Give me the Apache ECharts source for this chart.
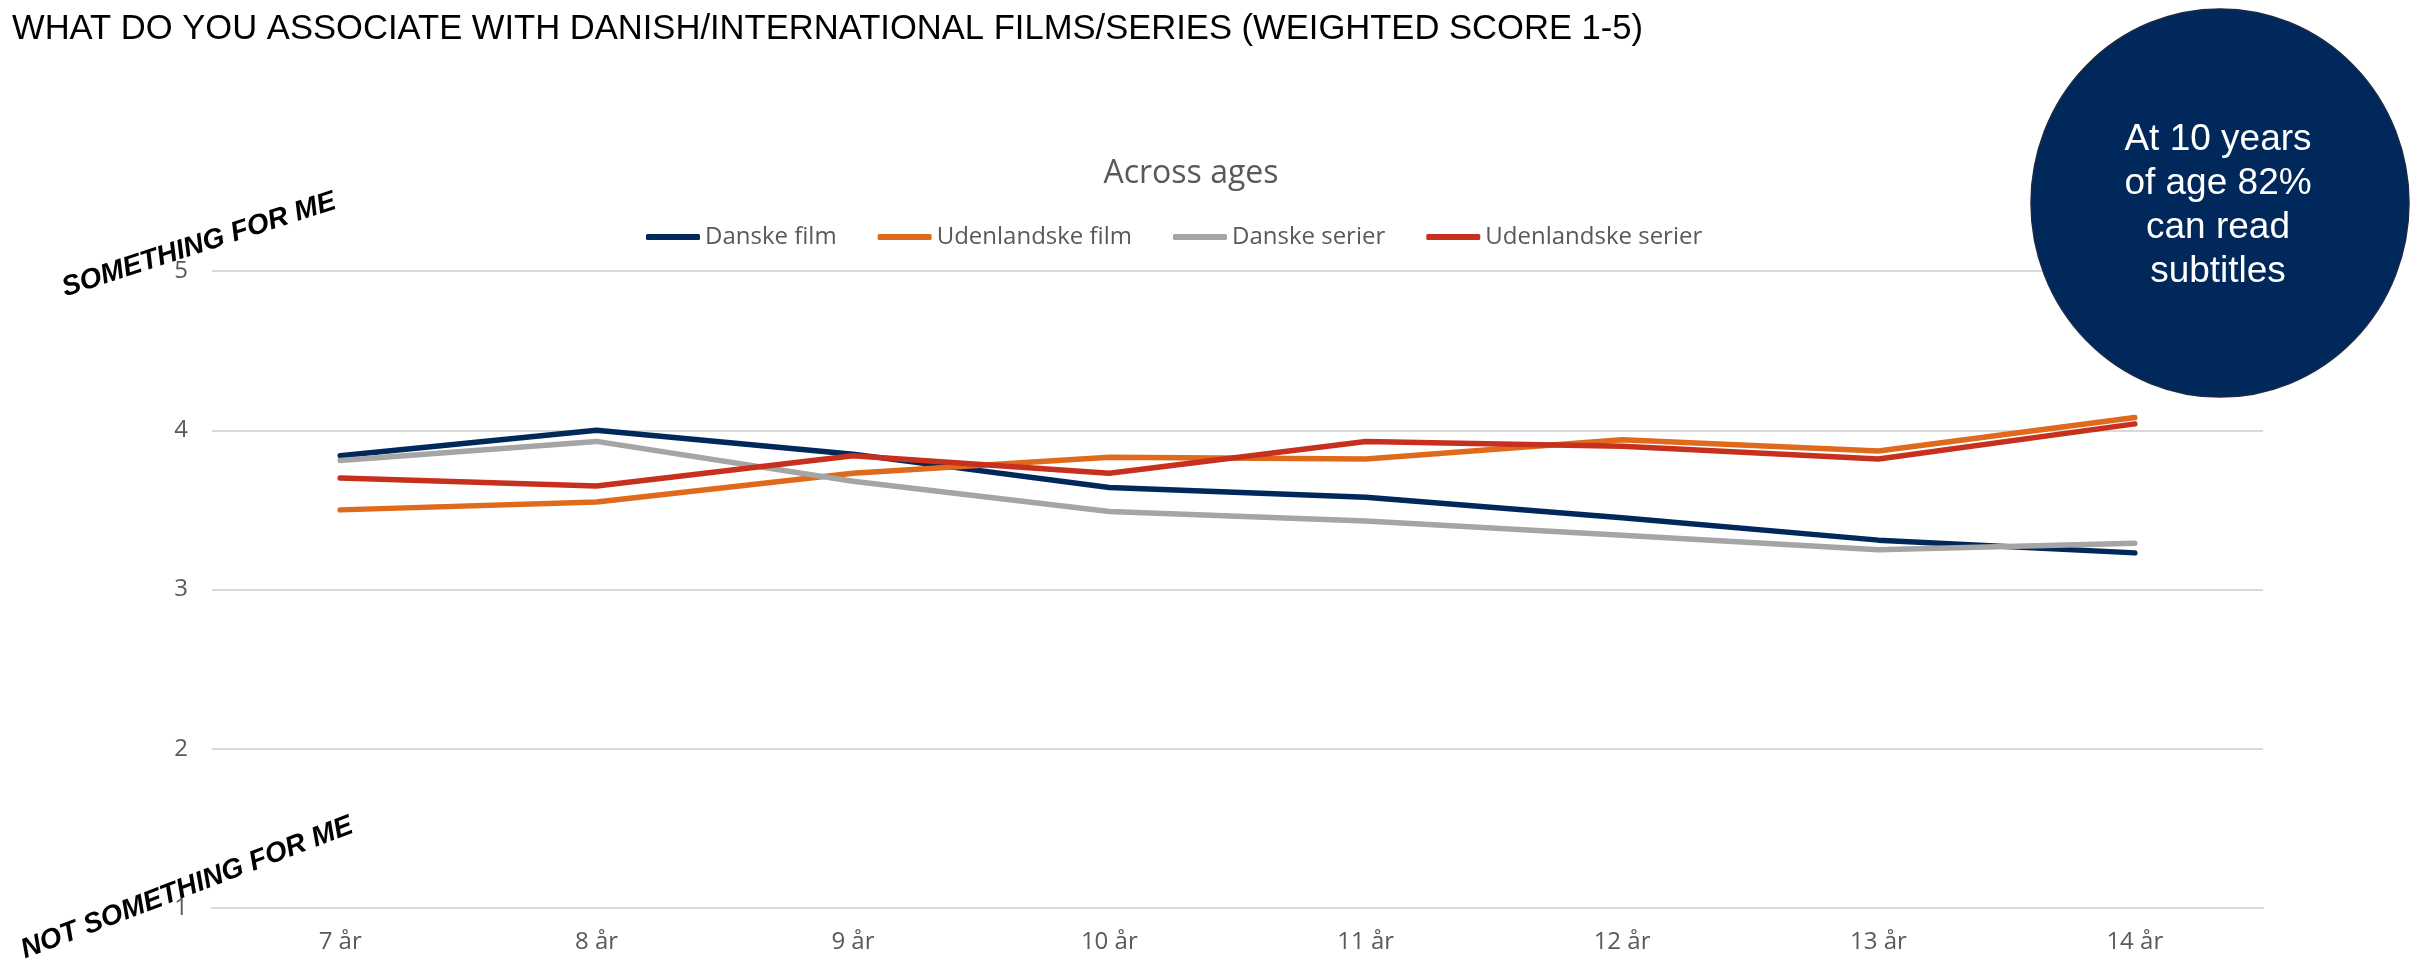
<!DOCTYPE html>
<html>
<head>
<meta charset="utf-8">
<script src="https://cdn.jsdelivr.net/npm/echarts@6/dist/echarts.min.js"></script>
<style>
html,body{margin:0;padding:0;background:#fff;}
#chart{width:2412px;height:961px;}
</style>
</head>
<body>
<div id="chart"></div>
<script>
const categories = ['7 år','8 år','9 år','10 år','11 år','12 år','13 år','14 år'];
const danskeFilm = [3.84, 4.00, 3.85, 3.64, 3.58, 3.45, 3.31, 3.23];
const udenlandskeFilm = [3.50, 3.55, 3.73, 3.83, 3.82, 3.94, 3.87, 4.08];
const danskeSerier = [3.81, 3.93, 3.68, 3.49, 3.43, 3.34, 3.25, 3.29];
const udenlandskeSerier = [3.70, 3.65, 3.84, 3.73, 3.93, 3.90, 3.82, 4.04];
const yTicks = [1, 2, 3, 4, 5];

const seriesNames = ['Danske film','Udenlandske film','Danske serier','Udenlandske serier'];
const seriesColors = ['#00285A','#DF6A1C','#A5A5A5','#C8301E'];
const seriesData = [danskeFilm, udenlandskeFilm, danskeSerier, udenlandskeSerier];

const chart = echarts.init(document.getElementById('chart'), null, {renderer:'canvas'});
const labelFont = '"Open Sans", "Noto Sans", sans-serif';

chart.setOption({
  animation: false,
  backgroundColor: '#ffffff',
  title: {
    text: 'Across ages',
    left: 1186,
    top: 153,
    textAlign: 'center',
    textStyle: {fontFamily: labelFont, fontWeight: 'normal', fontSize: 32, color: '#595959'}
  },
  legend: {
    left: 641,
    top: 220,
    itemWidth: 54,
    itemHeight: 6,
    itemGap: 41,
    icon: 'roundRect',
    data: seriesNames,
    textStyle: {fontFamily: labelFont, fontSize: 24, color: '#595959'}
  },
  grid: {left: 212, right: 149, top: 271, bottom: 53, containLabel: false},
  xAxis: {
    type: 'category',
    data: categories,
    boundaryGap: true,
    axisLine: {show: true, lineStyle: {color: '#d9d9d9', width: 2}},
    axisTick: {show: false},
    axisLabel: {fontFamily: labelFont, fontSize: 24, color: '#595959', margin: 22}
  },
  yAxis: {
    type: 'value',
    min: yTicks[0],
    max: yTicks[yTicks.length - 1],
    interval: 1,
    axisLine: {show: false},
    axisTick: {show: false},
    splitLine: {lineStyle: {color: '#d9d9d9', width: 2}},
    axisLabel: {fontFamily: labelFont, fontSize: 24, color: '#595959', margin: 24}
  },
  series: seriesNames.map((n, i) => ({
    name: n,
    type: 'line',
    data: seriesData[i],
    symbol: 'none',
    color: seriesColors[i],
    lineStyle: {width: 5.5, color: seriesColors[i], cap: 'round', join: 'round'}
  })),
  graphic: [
    {
      type: 'text',
      left: 12,
      top: 12,
      style: {
        text: 'WHAT DO YOU ASSOCIATE WITH DANISH/INTERNATIONAL FILMS/SERIES (WEIGHTED SCORE 1-5)',
        font: '34.6px "Liberation Sans", Arial, sans-serif',
        fill: '#000000'
      }
    },
    {
      type: 'text',
      x: 199, y: 245,
      rotation: 18 * Math.PI / 180,
      style: {
        text: 'SOMETHING FOR ME',
        font: 'italic bold 28px "Liberation Sans", Arial, sans-serif',
        fill: '#000000', align: 'center', verticalAlign: 'middle'
      }
    },
    {
      type: 'text',
      x: 187, y: 888,
      rotation: 21 * Math.PI / 180,
      style: {
        text: 'NOT SOMETHING FOR ME',
        font: 'italic bold 28px "Liberation Sans", Arial, sans-serif',
        fill: '#000000', align: 'center', verticalAlign: 'middle'
      }
    },
    {
      type: 'circle',
      x: 2220, y: 203,
      scaleY: 1.027,
      shape: {cx: 0, cy: 0, r: 189},
      style: {fill: '#00285A', stroke: '#1b2a46', lineWidth: 1.5},
      z: 100
    },
    {
      type: 'text',
      x: 2218, y: 206,
      z: 101,
      style: {
        text: 'At 10 years\nof age 82%\ncan read\nsubtitles',
        font: '37px "Liberation Sans", Arial, sans-serif',
        lineHeight: 44,
        fill: '#ffffff', align: 'center', verticalAlign: 'middle'
      }
    }
  ]
});
</script>
</body>
</html>
